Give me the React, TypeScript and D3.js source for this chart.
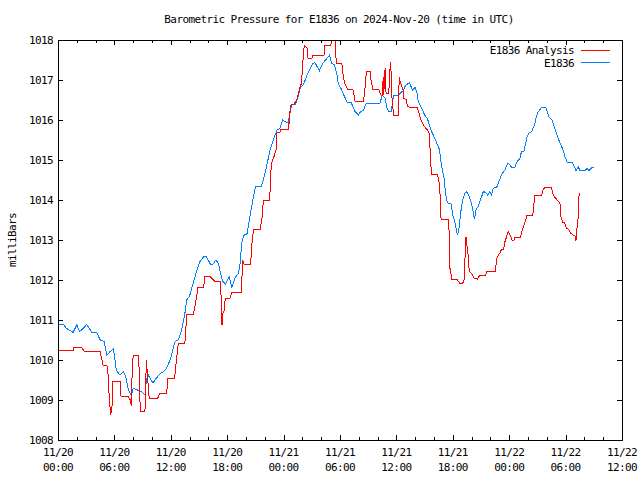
import React from "react";
import * as d3 from "d3";

// Hours since 2024-11-20 00:00 UTC
const analysisHours = [
  0.0, 1.6, 1.6, 2.5, 2.8, 4.5, 4.5, 4.8, 5.2, 5.3, 5.4, 5.6, 5.75, 5.85, 6.6, 6.7, 7.5, 7.7, 7.8, 7.9,
  8.0, 8.55, 8.65, 8.75, 9.25, 9.4, 9.55, 9.7, 10.6, 10.85, 11.55, 11.7, 12.4, 12.6, 12.8, 13.5, 13.7, 14.4, 14.6, 14.9,
  15.5, 15.6, 16.2, 16.7, 17.3, 17.4, 17.45, 17.55, 17.65, 17.8, 18.3, 18.5, 19.5, 19.65, 19.8, 20.5, 20.6, 20.8, 21.5, 21.7,
  21.85, 22.5, 22.55, 22.6, 22.7, 23.0, 23.2, 23.3, 23.6, 23.7, 24.5, 24.6, 24.75, 25.1, 25.4, 25.7, 25.9, 26.0, 26.1, 26.2,
  26.5, 26.6, 27.0, 27.1, 28.3, 28.4, 29.0, 29.2, 29.5, 29.6, 30.2, 30.3, 30.5, 30.8, 31.4, 31.6, 32.5, 32.7, 32.8, 33.2,
  33.3, 33.5, 34.1, 34.35, 34.5, 34.6, 34.65, 34.8, 34.9, 35.2, 35.25, 35.4, 35.5, 35.7, 36.2, 36.3, 36.4, 36.7, 36.8, 37.1,
  37.15, 37.6, 38.2, 38.4, 38.6, 38.8, 39.0, 39.3, 39.5, 39.65, 39.75, 40.35, 40.6, 40.75, 41.5, 41.6, 41.7, 41.9, 42.5, 42.8,
  43.05, 43.2, 43.4, 43.5, 43.65, 43.75, 44.0, 44.3, 44.6, 44.9, 45.5, 45.6, 46.5, 46.7, 46.85, 47.0, 47.2, 47.4, 47.55, 47.9,
  48.1, 48.3, 48.5, 48.6, 49.2, 49.4, 49.7, 49.9, 50.5, 50.6, 50.7, 51.45, 51.6, 51.8, 52.5, 52.6, 52.85, 53.1, 53.4, 53.5,
  53.7, 53.9, 54.1, 54.3, 54.5, 54.8, 55.0, 55.1, 55.15, 55.35, 55.4, 55.5,
];
const analysisValues = [
  1010.25, 1010.25, 1010.32, 1010.32, 1010.22, 1010.22, 1010.17, 1009.875, 1009.875, 1009.75, 1009.25, 1008.625, 1008.85, 1009.46, 1009.46, 1009.1, 1009.08, 1009.0, 1008.85, 1009.79,
  1010.125, 1010.125, 1009.71, 1008.71, 1008.71, 1010.0, 1009.5, 1009.04, 1009.04, 1009.17, 1009.17, 1009.54, 1009.54, 1010.0, 1010.42, 1010.42, 1011.15, 1011.15, 1011.375, 1011.82,
  1011.82, 1012.08, 1012.08, 1011.96, 1011.96, 1011.17, 1010.875, 1011.17, 1011.2, 1011.54, 1011.54, 1011.69, 1011.69, 1012.5, 1012.4, 1012.4, 1012.83, 1013.27, 1013.27, 1013.54,
  1014.0, 1014.0, 1014.17, 1014.5, 1014.9, 1015.1, 1015.25, 1015.68, 1015.68, 1015.77, 1015.77, 1015.96, 1016.375, 1016.4, 1016.5, 1016.79, 1016.92, 1017.25, 1017.625, 1017.875,
  1017.8, 1017.54, 1017.54, 1017.625, 1017.625, 1017.875, 1017.875, 1018.0, 1018.0, 1017.42, 1017.42, 1017.17, 1016.92, 1016.77, 1016.75, 1016.46, 1016.46, 1016.875, 1017.21, 1017.21,
  1017.0, 1016.77, 1016.77, 1016.625, 1016.625, 1017.08, 1016.625, 1017.29, 1016.67, 1016.67, 1017.125, 1017.46, 1016.625, 1016.125, 1016.125, 1017.08, 1016.96, 1016.75, 1016.54, 1016.5,
  1016.33, 1016.32, 1016.32, 1016.17, 1016.0, 1015.92, 1015.83, 1015.75, 1015.67, 1014.92, 1014.65, 1014.65, 1014.375, 1013.52, 1013.52, 1013.25, 1012.29, 1012.02, 1012.0, 1011.9,
  1011.92, 1012.0, 1013.08, 1012.875, 1012.58, 1012.21, 1012.17, 1012.04, 1012.02, 1012.125, 1012.125, 1012.21, 1012.21, 1012.54, 1012.625, 1012.67, 1012.77, 1012.77, 1012.96, 1013.21,
  1013.125, 1013.0, 1013.0, 1013.07, 1013.07, 1013.25, 1013.46, 1013.62, 1013.62, 1013.79, 1014.12, 1014.12, 1014.25, 1014.32, 1014.32, 1014.17, 1014.07, 1014.0, 1013.93, 1013.58,
  1013.43, 1013.43, 1013.29, 1013.27, 1013.18, 1013.125, 1013.1, 1012.98, 1013.18, 1013.58, 1014.07, 1014.17,
];

const stationHours = [
  0.0, 0.6, 0.9, 1.6, 2.0, 2.3, 2.7, 3.05, 3.6, 4.1, 4.5, 4.9, 5.2, 5.5, 5.9, 6.2, 6.6, 6.95, 7.2, 7.5,
  7.8, 8.0, 8.9, 9.25, 9.4, 9.6, 9.85, 10.1, 10.3, 10.6, 10.9, 11.2, 11.5, 11.7, 12.0, 12.2, 12.45, 12.8, 13.15, 13.5,
  13.7, 14.0, 14.3, 14.6, 14.85, 15.1, 15.5, 15.8, 16.2, 16.5, 16.8, 17.05, 17.3, 17.5, 17.8, 18.2, 18.5, 18.8, 19.2, 19.35,
  19.55, 19.7, 19.9, 20.1, 20.35, 20.6, 20.8, 21.0, 21.6, 21.85, 22.2, 22.55, 22.9, 23.3, 23.6, 23.9, 24.15, 24.5, 24.7, 24.9,
  25.3, 25.6, 25.8, 26.1, 26.3, 26.5, 26.8, 27.1, 27.35, 27.8, 28.2, 28.6, 28.9, 29.1, 29.4, 29.65, 29.8, 30.1, 30.4, 30.8,
  31.2, 31.6, 31.95, 32.2, 32.5, 32.8, 34.25, 34.5, 34.8, 35.0, 35.2, 35.45, 35.7, 36.2, 36.7, 37.0, 37.4, 37.7, 38.0, 38.2,
  38.3, 38.5, 38.8, 39.0, 39.3, 39.5, 39.75, 40.0, 40.3, 40.6, 40.7, 40.9, 41.1, 41.2, 41.35, 41.5, 41.8, 42.0, 42.2, 42.5,
  42.7, 42.8, 43.05, 43.3, 43.5, 43.75, 44.0, 44.3, 44.5, 44.7, 45.0, 45.25, 45.5, 45.7, 45.95, 46.1, 46.3, 46.7, 46.9, 47.1,
  47.3, 47.55, 47.7, 47.9, 48.25, 48.6, 48.85, 49.15, 49.3, 49.55, 49.8, 49.9, 50.1, 50.4, 50.6, 50.75, 50.9, 51.1, 51.3, 51.45,
  51.9, 52.05, 52.2, 52.4, 52.6, 52.8, 53.0, 53.2, 53.4, 53.6, 53.8, 53.9, 54.2, 54.75, 54.9, 55.1, 55.35, 55.5, 56.1, 56.3,
  56.5, 56.8, 57.05,
];
const stationValues = [
  1010.89, 1010.89, 1010.79, 1010.69, 1010.875, 1010.71, 1010.79, 1010.89, 1010.69, 1010.69, 1010.5, 1010.46, 1010.12, 1010.2, 1010.29, 1009.75, 1009.62, 1009.71, 1009.6, 1009.25,
  1009.12, 1009.29, 1009.21, 1009.12, 1009.5, 1009.625, 1009.52, 1009.42, 1009.5, 1009.58, 1009.67, 1009.7, 1009.77, 1009.875, 1010.04, 1010.25, 1010.46, 1010.5, 1010.75, 1011.17,
  1011.5, 1011.6, 1011.85, 1012.1, 1012.3, 1012.46, 1012.58, 1012.58, 1012.4, 1012.4, 1012.5, 1012.42, 1012.17, 1011.98, 1011.9, 1012.08, 1011.82, 1012.04, 1012.17, 1012.375,
  1012.92, 1013.08, 1013.15, 1013.15, 1013.5, 1013.83, 1014.08, 1014.33, 1014.33, 1014.5, 1014.85, 1015.25, 1015.5, 1015.75, 1015.79, 1016.0, 1015.96, 1015.92, 1016.25, 1016.375,
  1016.4, 1016.625, 1016.83, 1016.875, 1017.0, 1017.125, 1017.27, 1017.42, 1017.43, 1017.23, 1017.43, 1017.54, 1017.625, 1017.42, 1017.375, 1017.17, 1016.92, 1016.79, 1016.625, 1016.43,
  1016.43, 1016.21, 1016.125, 1016.21, 1016.25, 1016.42, 1016.42, 1016.625, 1016.54, 1016.29, 1016.21, 1016.21, 1016.625, 1016.625, 1016.73, 1016.875, 1016.93, 1016.75, 1016.82, 1016.67,
  1016.5, 1016.375, 1016.25, 1016.125, 1016.04, 1015.875, 1015.71, 1015.58, 1015.42, 1015.25, 1015.0, 1014.75, 1014.5, 1014.21, 1014.0, 1013.92, 1013.92, 1013.625, 1013.46, 1013.125,
  1013.33, 1013.625, 1014.0, 1014.17, 1014.21, 1014.08, 1013.92, 1013.52, 1013.79, 1013.83, 1014.04, 1014.21, 1014.19, 1014.125, 1014.21, 1014.125, 1014.29, 1014.33, 1014.46, 1014.58,
  1014.67, 1014.75, 1014.85, 1014.92, 1014.82, 1014.82, 1014.96, 1015.04, 1015.21, 1015.21, 1015.46, 1015.58, 1015.68, 1015.71, 1015.83, 1015.92, 1016.1, 1016.21, 1016.27, 1016.32,
  1016.32, 1016.21, 1016.08, 1016.04, 1015.98, 1015.83, 1015.68, 1015.54, 1015.43, 1015.32, 1015.21, 1015.1, 1014.93, 1014.93, 1014.85, 1014.73, 1014.82, 1014.75, 1014.75, 1014.79,
  1014.73, 1014.82, 1014.82,
];

const yTicks = [1008, 1009, 1010, 1011, 1012, 1013, 1014, 1015, 1016, 1017, 1018];
const seriesNames = ["E1836 Analysis", "E1836"];
const seriesColors = ["#ff0000", "#0080ff"];
const titleText = "Barometric Pressure for E1836 on 2024-Nov-20 (time in UTC)";
const yLabel = "milliBars";

const BASE = Date.UTC(2024, 10, 20, 0, 0, 0);
const toDate = (h: number) => new Date(BASE + h * 3600 * 1000);

export default function App() {
  const W = 640, H = 480;
  const left = 58, right = 622, top = 40, bottom = 440;
  const x = d3.scaleUtc().domain([toDate(0), toDate(60)]).range([left, right]);
  const y = d3.scaleLinear().domain([1008, 1018]).range([bottom, top]);
  const font = "'DejaVu Sans Mono', 'Liberation Mono', monospace";

  const line = d3
    .line<[number, number]>()
    .x((d) => x(toDate(d[0])))
    .y((d) => y(d[1]));

  const redPts = analysisHours.map((h, i) => [h, analysisValues[i]] as [number, number]);
  const bluePts = stationHours.map((h, i) => [h, stationValues[i]] as [number, number]);

  const majorTicks = x.ticks(d3.utcHour.every(6)!);
  const minorTicks = x.ticks(d3.utcHour.every(2)!).filter((d) => d.getUTCHours() % 6 !== 0);
  const fmtDate = d3.utcFormat("%m/%d");
  const fmtTime = d3.utcFormat("%H:%M");

  return (
    <svg
      width={W}
      height={H}
      style={{ position: "absolute", left: 0, top: 0, display: "block", background: "#fff", overflow: "visible" }}
      fontFamily={font}
      fontSize={11}
      letterSpacing={-0.6}
    >
      <rect x={0} y={0} width={W} height={H} fill="#fff" />
      <text x={339} y={23} textAnchor="middle" fill="#000">{titleText}</text>
      <text transform={`translate(16,${240}) rotate(-90)`} textAnchor="middle" fill="#000">{yLabel}</text>

      <g shapeRendering="crispEdges" stroke="#000" strokeWidth={1}>
        {yTicks.map((t) => (
          <g key={t}>
            <line x1={left} x2={left + 5} y1={Math.round(y(t)) + 0.5} y2={Math.round(y(t)) + 0.5} />
            <line x1={right - 5} x2={right} y1={Math.round(y(t)) + 0.5} y2={Math.round(y(t)) + 0.5} />
          </g>
        ))}
        {majorTicks.map((t, i) => (
          <g key={"M" + i}>
            <line x1={Math.round(x(t)) + 0.5} x2={Math.round(x(t)) + 0.5} y1={bottom} y2={bottom - 5} />
            <line x1={Math.round(x(t)) + 0.5} x2={Math.round(x(t)) + 0.5} y1={top} y2={top + 5} />
          </g>
        ))}
        {minorTicks.map((t, i) => (
          <g key={"m" + i}>
            <line x1={Math.round(x(t)) + 0.5} x2={Math.round(x(t)) + 0.5} y1={bottom} y2={bottom - 3} />
            <line x1={Math.round(x(t)) + 0.5} x2={Math.round(x(t)) + 0.5} y1={top} y2={top + 3} />
          </g>
        ))}
      </g>

      {yTicks.map((t) => (
        <text key={"yl" + t} x={left - 5} y={y(t) + 4} textAnchor="end" fill="#000">{t}</text>
      ))}
      {majorTicks.map((t, i) => (
        <g key={"xl" + i}>
          <text x={x(t)} y={456} textAnchor="middle" fill="#000">{fmtDate(t)}</text>
          <text x={x(t)} y={471} textAnchor="middle" fill="#000">{fmtTime(t)}</text>
        </g>
      ))}

      <g fill="none" strokeWidth={1} shapeRendering="crispEdges">
        <path d={line(bluePts) || ""} stroke={seriesColors[1]} />
        <path d={line(redPts) || ""} stroke={seriesColors[0]} />
      </g>

      <rect x={left + 0.5} y={top + 0.5} width={right - left} height={bottom - top} fill="none" stroke="#000" shapeRendering="crispEdges" />

      {seriesNames.map((name, i) => (
        <g key={name}>
          <text x={574} y={54 + i * 13} textAnchor="end" fill="#000">{name}</text>
          <line x1={581} x2={610} y1={50.5 + i * 12} y2={50.5 + i * 12} stroke={seriesColors[i]} shapeRendering="crispEdges" />
        </g>
      ))}
    </svg>
  );
}
